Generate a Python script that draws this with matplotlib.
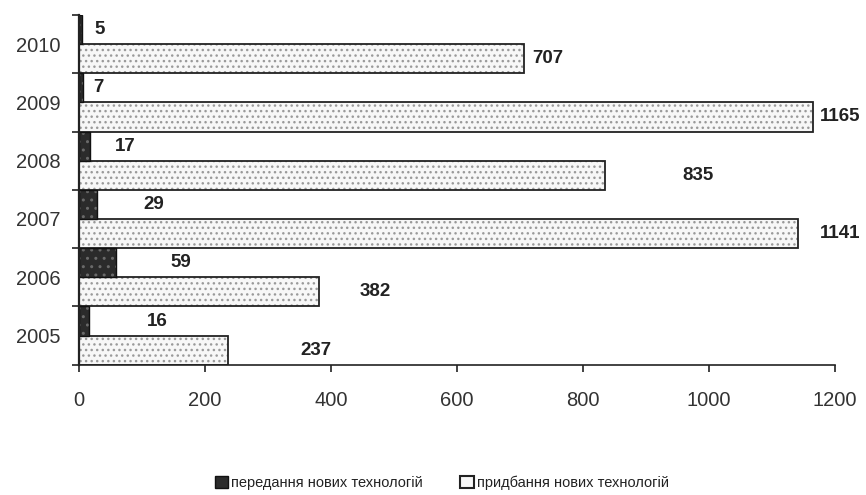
import matplotlib.pyplot as plt
import numpy as np
from matplotlib import font_manager
from matplotlib.patches import Patch
from matplotlib.ticker import FixedLocator

plt.rcParams['font.family'] = ['Liberation Sans', 'DejaVu Sans']

years = ['2005', '2006', '2007', '2008', '2009', '2010']
transfer = [16, 59, 29, 17, 7, 5]
purchase = [237, 382, 1141, 835, 1165, 707]
legend_labels = ['передання нових технологій', 'придбання нових технологій']
x_ticks = [0, 200, 400, 600, 800, 1000, 1200]

# label offsets from bar end, in points (as placed in the source)
transfer_dx = [42, 39, 33, 18, 7, 9]
purchase_dx = [52, 29, 16, 56, 5, 6]

# condensed face for the legend if we have it
names = {f.name for f in font_manager.fontManager.ttflist}
if 'Liberation Sans Narrow' in names:
    legend_font = {'family': ['Liberation Sans Narrow', 'DejaVu Sans'], 'size': 13}
else:
    legend_font = {'family': ['Liberation Sans', 'DejaVu Sans'], 'size': 10.5}

fig = plt.figure(figsize=(8.66, 4.95), dpi=100)
ax = fig.add_axes([0.091, 0.263, 0.873, 0.707])

y = np.arange(len(years))
h = 0.5

# purchase bars: dotted fill then black outline
ax.barh(y - h / 2, purchase, height=h, color='#f7f7f7', edgecolor='#9a9a9a',
        hatch='...', linewidth=0)
ax.barh(y - h / 2, purchase, height=h, fill=False, edgecolor='#222222', linewidth=1.3)
# transfer bars: dark with light speckle
ax.barh(y + h / 2, transfer, height=h, color='#2b2b2b', edgecolor='#6a6a6a',
        hatch='..', linewidth=0)
ax.barh(y + h / 2, transfer, height=h, fill=False, edgecolor='#111111', linewidth=1.0)

for i in range(len(years)):
    ax.annotate(str(transfer[i]), (transfer[i], y[i] + h / 2), xytext=(transfer_dx[i], 0),
                textcoords='offset points', va='center', ha='left',
                fontsize=13.5, fontweight='bold', color='#222222')
    ax.annotate(str(purchase[i]), (purchase[i], y[i] - h / 2), xytext=(purchase_dx[i], 0),
                textcoords='offset points', va='center', ha='left',
                fontsize=13.5, fontweight='bold', color='#222222')

ax.set_xlim(0, 1200)
ax.set_ylim(-0.5, len(years) - 0.5)
ax.set_xticks(x_ticks)
ax.set_xticklabels([str(t) for t in x_ticks], fontsize=14.5, color='#333333')
ax.set_yticks(y)
ax.set_yticklabels(years, fontsize=14.5, color='#333333')
ax.yaxis.set_minor_locator(FixedLocator(np.arange(-0.5, len(years), 1.0)))
ax.tick_params(axis='y', which='major', length=0, pad=13)
ax.tick_params(axis='y', which='minor', length=5, width=1.2, color='#222222')
ax.tick_params(axis='x', length=5, width=1.2, color='#222222', pad=14)

for s in ['top', 'right']:
    ax.spines[s].set_visible(False)
ax.spines['left'].set_linewidth(1.6)
ax.spines['left'].set_color('#222222')
ax.spines['bottom'].set_linewidth(1.2)
ax.spines['bottom'].set_color('#222222')

handles = [Patch(facecolor='#2b2b2b', edgecolor='#111111'),
           Patch(facecolor='#f7f7f7', edgecolor='#222222', linewidth=1.5)]
fig.legend(handles, legend_labels, loc='center', bbox_to_anchor=(0.51, 0.024), ncol=2,
           frameon=False, prop=legend_font, handlelength=0.9, handleheight=0.9,
           handletextpad=0.2, columnspacing=2.6, labelcolor='#222222',
           borderpad=0, borderaxespad=0)

fig.savefig('out.png', dpi=100)
